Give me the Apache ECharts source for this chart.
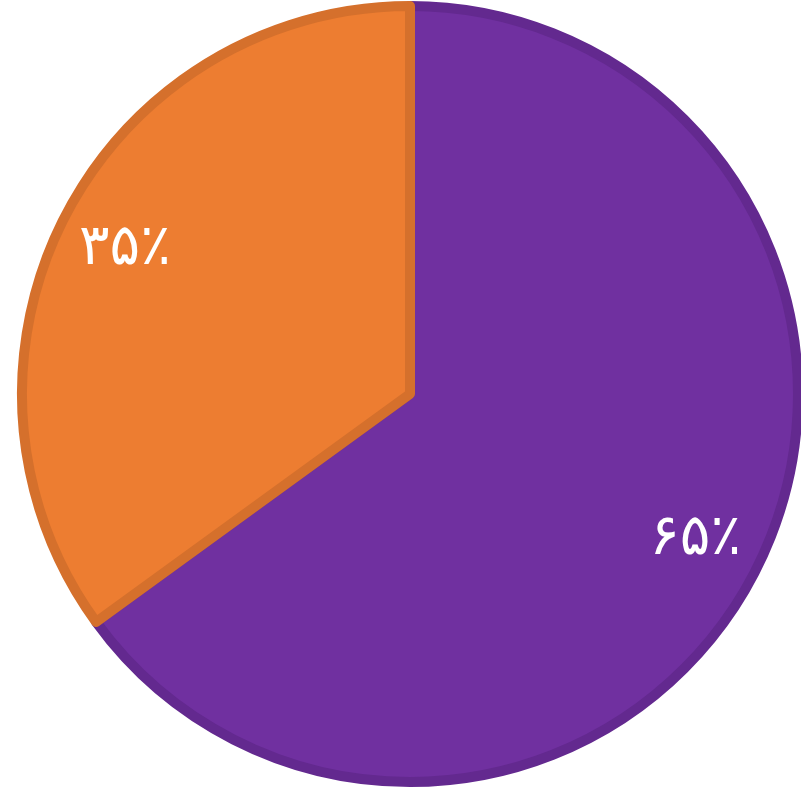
<!DOCTYPE html>
<html>
<head>
<meta charset="utf-8">
<script src="https://cdn.jsdelivr.net/npm/echarts@6/dist/echarts.min.js"></script>
<style>
  html, body { margin: 0; padding: 0; background: #fff; }
  #chart { width: 801px; height: 792px; }
</style>
</head>
<body>
<div id="chart"></div>
<script>
// data
const names = ["purple", "orange"];
const values = [65, 35];
const labels = ["۶۵٪", "۳۵٪"];
const fills = ["#7030A0", "#ED7D31"];
const borders = ["#63298F", "#D5702C"];

const chart = echarts.init(document.getElementById("chart"));

const pieData = names.map((n, i) => ({
  name: n,
  value: values[i],
  itemStyle: { color: fills[i], borderColor: borders[i] }
}));

// labels sit at about 0.8 of the radius, so an empty ring carries them
const labelData = names.map((n, i) => ({
  name: n,
  value: values[i],
  label: { formatter: labels[i] }
}));

chart.setOption({
  animation: false,
  series: [
    {
      type: "pie",
      center: [410, 394],
      radius: [0, 388],
      startAngle: 90,
      clockwise: true,
      silent: true,
      label: { show: false },
      labelLine: { show: false },
      itemStyle: { borderWidth: 10 },
      data: pieData
    },
    {
      type: "pie",
      center: [410, 394],
      radius: [244, 390],
      startAngle: 90,
      clockwise: true,
      silent: true,
      itemStyle: { color: "transparent", borderWidth: 0 },
      labelLine: { show: false },
      label: {
        show: true,
        position: "inside",
        color: "#fff",
        fontSize: 57,
        fontWeight: "normal",
        fontFamily: "DejaVu Sans"
      },
      data: labelData
    }
  ]
});
</script>
</body>
</html>
